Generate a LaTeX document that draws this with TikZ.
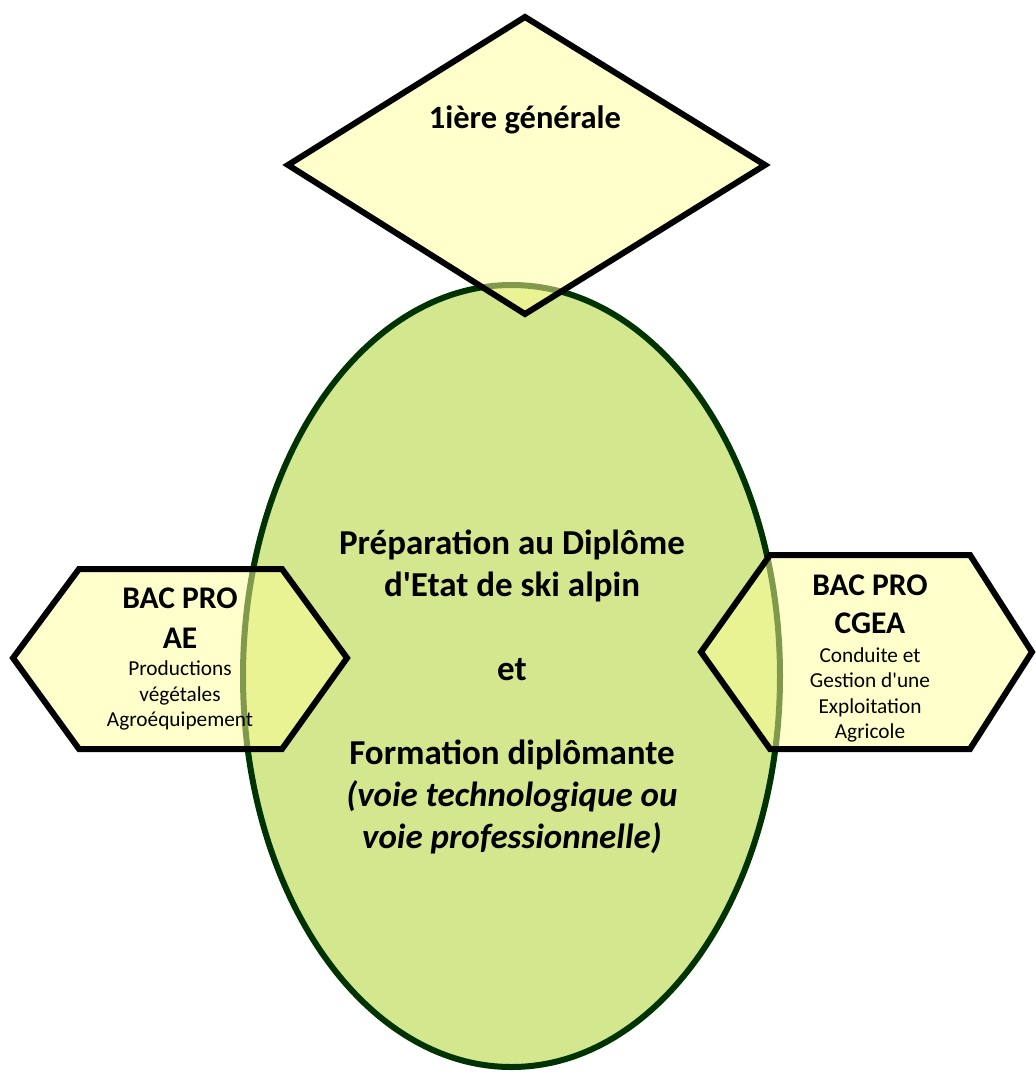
\documentclass[tikz,border=0pt]{standalone}
\usepackage{fontspec}
\setmainfont{Carlito}
\usetikzlibrary{positioning}

\definecolor{ovalgreen}{HTML}{D3E78E}
\definecolor{ovalline}{HTML}{003300}
\definecolor{paleyellow}{HTML}{FFFF99}

\tikzset{
  boite/.style={draw=black, line width=6pt, fill=paleyellow, fill opacity=0.5, line join=miter},
  titre/.style={font=\fontsize{31.5}{40}\selectfont\bfseries, align=center, inner sep=0pt},
  detail/.style={font=\fontsize{21.3}{25.5}\selectfont, align=center, inner sep=0pt},
}

\begin{document}
\begin{tikzpicture}[x=1pt,y=-1pt]
                \useasboundingbox (0,0) rectangle (1036,1074);
                % grand ovale
                \filldraw[fill=ovalgreen, draw=ovalline, line width=6pt] (511.5,676) ellipse (268.5 and 391);
                % losange et hexagones
                \draw[boite] (525,17) -- (765,165) -- (525,314) -- (288,165) -- cycle;
                \draw[boite] (13,658) -- (79,569) -- (282,569) -- (347,658) -- (282,749) -- (79,749) -- cycle;
                \draw[boite] (701,652) -- (770,555) -- (970,555) -- (1032,652) -- (970,749) -- (770,749) -- cycle;
                % textes
                \node[titre, font=\fontsize{32.5}{39}\selectfont\bfseries] (premiere) at (525,120) {1ière générale};
                \node[titre, font=\fontsize{35}{42}\selectfont\bfseries] (centre) at (512,691.5) {Préparation au Diplôme\\d\textquotesingle Etat de ski alpin\\[42pt]et\\[42pt]Formation diplômante\\\textit{(voie technologique ou}\\\textit{voie professionnelle)}};
                \node[titre] (ae) at (180,618) {BAC PRO\\AE};
                \node[detail, below=12pt of ae] (aedetail) {Productions\\végétales\\Agroéquipement};
                \node[titre, font=\fontsize{31.5}{38}\selectfont\bfseries] (cgea) at (870,604) {BAC PRO\\CGEA};
                \node[detail, below=13.5pt of cgea] (cgeadetail) {Conduite et\\Gestion d\textquotesingle une\\Exploitation\\Agricole};
            \end{tikzpicture}
\end{document}
